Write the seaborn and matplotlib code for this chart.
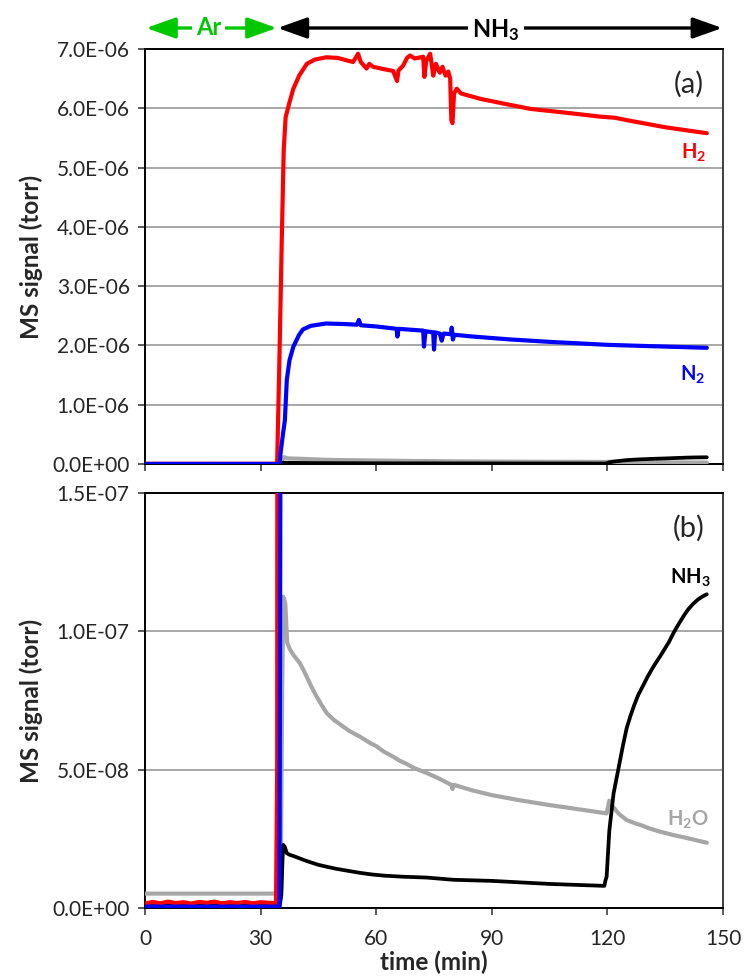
import matplotlib
matplotlib.use("Agg")
import matplotlib.pyplot as plt
import seaborn as sns
import pandas as pd
import numpy as np

# ---------------- data (time in min, signal in torr) ----------------
t_h2 = [0, 2, 4, 6, 8, 10, 12, 14, 16, 18, 20, 22, 24, 26, 28, 30, 32, 34.0,
        34.3, 34.8, 35.2, 35.5, 36.0, 36.5, 37.5, 38.5, 40, 42, 44, 47, 50, 54,
        55.3, 56, 57.5, 58.2, 59.2, 62, 64.4, 65.4, 65.8, 67, 68, 68.8, 70,
        71.5, 72.2, 72.5, 73, 74, 74.5, 74.8, 75.5, 76.5, 77.2, 78, 78.7, 79.2,
        79.5, 79.8, 80.2, 80.9, 82, 87, 93, 100, 110, 118, 122, 125, 135, 145.8]
h2 = [1.6e-9, 2.2e-9, 1.7e-9, 2.3e-9, 1.8e-9, 2.1e-9, 1.6e-9, 2.2e-9, 1.9e-9,
      2.3e-9, 1.7e-9, 2.1e-9, 1.8e-9, 2.2e-9, 1.7e-9, 2.1e-9, 1.9e-9, 1.8e-9,
      0.05e-6, 1.5e-6, 2.8e-6, 3.8e-6, 5.3e-6, 5.85e-6, 6.1e-6, 6.33e-6, 6.55e-6,
      6.75e-6, 6.82e-6, 6.86e-6, 6.85e-6, 6.78e-6, 6.92e-6, 6.78e-6, 6.67e-6,
      6.75e-6, 6.7e-6, 6.66e-6, 6.63e-6, 6.46e-6, 6.64e-6, 6.72e-6, 6.85e-6,
      6.89e-6, 6.84e-6, 6.86e-6, 6.87e-6, 6.53e-6, 6.8e-6, 6.92e-6, 6.7e-6,
      6.55e-6, 6.75e-6, 6.6e-6, 6.7e-6, 6.55e-6, 6.62e-6, 6.5e-6, 5.8e-6,
      5.75e-6, 6.25e-6, 6.33e-6, 6.25e-6, 6.16e-6, 6.08e-6, 5.99e-6, 5.92e-6,
      5.86e-6, 5.84e-6, 5.8e-6, 5.68e-6, 5.58e-6]

t_n2 = [0, 34.9, 35.2, 35.8, 36.3, 36.8, 37.5, 38.5, 40, 41, 43, 47, 52, 55,
        55.5, 56, 60, 65.3, 65.5, 65.8, 70, 72.2, 72.4, 72.8, 74.8, 75, 75.3,
        76.5, 77, 77.5, 79.4, 79.6, 79.9, 80.3, 85, 95, 105, 120, 130, 145.8]
n2 = [0.5e-9, 0.5e-9, 0.2e-6, 0.5e-6, 0.74e-6, 1.42e-6, 1.75e-6, 1.98e-6,
      2.18e-6, 2.27e-6, 2.33e-6, 2.37e-6, 2.36e-6, 2.35e-6, 2.43e-6, 2.34e-6,
      2.32e-6, 2.28e-6, 2.15e-6, 2.28e-6, 2.26e-6, 2.25e-6, 1.98e-6, 2.24e-6,
      2.22e-6, 1.93e-6, 2.22e-6, 2.2e-6, 2.08e-6, 2.2e-6, 2.19e-6, 2.3e-6,
      2.1e-6, 2.18e-6, 2.15e-6, 2.1e-6, 2.06e-6, 2.01e-6, 1.99e-6, 1.96e-6]

t_h2o = [0, 34.9, 35.2, 35.6, 35.9, 36.4, 36.9, 37.6, 38.5, 40.2, 41.5, 43,
         44.5, 46, 47.2, 49, 51, 53, 55.8, 58, 60, 62, 64.4, 66, 68, 70, 73.1,
         76, 79.5, 79.8, 80.2, 85, 90, 97, 105, 112, 119.8, 120.5, 121.5, 123,
         125, 127, 129, 131, 133.7, 137, 140, 143, 145.8]
h2o = [5.2e-9, 5.2e-9, 5.5e-9, 8.0e-8, 11.25e-8, 11.0e-8, 9.6e-8, 9.35e-8,
       9.15e-8, 8.85e-8, 8.5e-8, 8.05e-8, 7.65e-8, 7.3e-8, 7.04e-8, 6.8e-8,
       6.6e-8, 6.4e-8, 6.19e-8, 6.0e-8, 5.85e-8, 5.65e-8, 5.47e-8, 5.33e-8,
       5.2e-8, 5.05e-8, 4.88e-8, 4.7e-8, 4.45e-8, 4.3e-8, 4.45e-8, 4.25e-8,
       4.08e-8, 3.9e-8, 3.72e-8, 3.58e-8, 3.42e-8, 3.88e-8, 3.65e-8, 3.4e-8,
       3.18e-8, 3.07e-8, 2.98e-8, 2.87e-8, 2.76e-8, 2.64e-8, 2.55e-8, 2.45e-8,
       2.36e-8]

t_nh3 = [0, 35.0, 35.4, 35.7, 35.9, 36.3, 36.8, 37.6, 38.5, 40, 41.5, 43, 45,
         47.2, 49.5, 52, 55.8, 59, 62, 67, 73.1, 80, 90, 105, 115, 119.2, 119.5,
         119.8, 120.5, 121.6, 122.8, 124, 125, 126, 127, 128, 129.3, 130.4,
         131.5, 132.6, 133.7, 134.8, 136, 137, 138, 139, 140, 141, 142.3, 143.5,
         144.7, 145.8]
nh3 = [1.0e-9, 1.0e-9, 5e-9, 1.8e-8, 2.28e-8, 2.2e-8, 1.98e-8, 1.92e-8,
       1.88e-8, 1.8e-8, 1.72e-8, 1.65e-8, 1.56e-8, 1.49e-8, 1.42e-8, 1.36e-8,
       1.27e-8, 1.21e-8, 1.17e-8, 1.13e-8, 1.1e-8, 1.02e-8, 0.98e-8, 0.87e-8,
       0.82e-8, 0.8e-8, 1.0e-8, 1.13e-8, 2.8e-8, 4.14e-8, 4.99e-8, 5.85e-8,
       6.5e-8, 6.95e-8, 7.35e-8, 7.7e-8, 8.05e-8, 8.35e-8, 8.62e-8, 8.87e-8,
       9.1e-8, 9.35e-8, 9.62e-8, 9.9e-8, 10.15e-8, 10.38e-8, 10.6e-8, 10.8e-8,
       11.0e-8, 11.15e-8, 11.26e-8, 11.34e-8]

x_ticks = [0, 30, 60, 90, 120, 150]
y_ticks_a = [0, 1e-6, 2e-6, 3e-6, 4e-6, 5e-6, 6e-6, 7e-6]
y_ticks_b = [0, 5e-8, 1e-7, 1.5e-7]

# ---------------- styling ----------------
sns.set_theme(style="white")
plt.rcParams['font.family'] = ['Lato', 'DejaVu Sans']
plt.rcParams['mathtext.default'] = 'regular'

RED = '#ff0000'
BLUE = '#0000ff'
GRAY = '#a6a6a6'
BLACK = '#000000'
GREEN = '#00c800'

W, H = 747, 976
fig = plt.figure(figsize=(W / 100, H / 100), dpi=100)
L, R = 145 / W, 723 / W
ax_a = fig.add_axes([L, 1 - 464 / H, R - L, (464 - 49) / H])
ax_b = fig.add_axes([L, 1 - 908 / H, R - L, (908 - 493) / H])

series = [
    (t_h2o, h2o, GRAY, 3.0),
    (t_nh3, nh3, BLACK, 2.7),
    (t_h2, h2, RED, 3.0),
    (t_n2, n2, BLUE, 3.0),
]

for ax in (ax_a, ax_b):
    for tt, yy, col, lw in series:
        df = pd.DataFrame({'t': tt, 'v': yy})
        sns.lineplot(data=df, x='t', y='v', ax=ax, color=col, linewidth=lw,
                     estimator=None, sort=False, legend=False,
                     solid_joinstyle='round', solid_capstyle='round', zorder=3)
    ax.set_xlim(0, 150)
    ax.set_xticks(x_ticks)
    ax.set_xlabel('')
    ax.yaxis.grid(True, color='#a0a0a0', linewidth=1.3)
    ax.xaxis.grid(False)
    ax.set_axisbelow(True)
    for s in ax.spines.values():
        s.set_visible(True)
        s.set_color('black')
        s.set_linewidth(1.4)
    ax.spines['right'].set_color('#404040')
    ax.tick_params(axis='both', which='both', direction='out', length=5,
                   width=1.2, color='#404040', labelsize=15, left=True,
                   bottom=True, right=False, top=False, pad=6)
    ax.tick_params(axis='x', pad=10)
    ax.set_ylabel('MS signal (torr)', fontsize=17.5, fontweight='bold', labelpad=7)

ax_a.set_ylim(0, 7e-6)
ax_a.set_yticks(y_ticks_a)
ax_a.set_yticklabels([f"{v:.1E}" for v in y_ticks_a])
ax_a.set_xticklabels([])

ax_b.set_ylim(0, 1.5e-7)
ax_b.set_yticks(y_ticks_b)
ax_b.set_yticklabels([f"{v:.1E}" for v in y_ticks_b])
ax_b.set_xticklabels([str(v) for v in x_ticks])
ax_b.set_xlabel('time (min)', fontsize=17.5, fontweight='bold', labelpad=1)

# panel labels and series labels
ax_a.text(0.94, 0.915, '(a)', transform=ax_a.transAxes, fontsize=21,
          ha='center', va='center')
ax_b.text(0.94, 0.915, '(b)', transform=ax_b.transAxes, fontsize=21,
          ha='center', va='center')
ax_a.text(142.5, 5.25e-6, 'H$_2$', color=RED, fontsize=14.5, fontweight='bold',
          ha='center', va='center')
ax_a.text(142.0, 1.5e-6, 'N$_2$', color=BLUE, fontsize=14.5, fontweight='bold',
          ha='center', va='center')
ax_b.text(141.5, 1.195e-7, 'NH$_3$', color=BLACK, fontsize=14.5,
          fontweight='bold', ha='center', va='center')
ax_b.text(141.0, 3.2e-8, 'H$_2$O', color=GRAY, fontsize=14.5,
          fontweight='bold', ha='center', va='center')

# gas arrows above top panel
y_arr = 1 + (49 - 28) / (464 - 49)
arrow_kw = dict(xycoords=('data', 'axes fraction'),
                textcoords=('data', 'axes fraction'), annotation_clip=False)
ax_a.annotate('', xy=(0.3, y_arr), xytext=(34.2, y_arr),
              arrowprops=dict(arrowstyle='<|-|>,head_length=0.9,head_width=0.32',
                              color=GREEN, lw=2.4, mutation_scale=20,
                              shrinkA=0, shrinkB=0), **arrow_kw)
ax_a.annotate('', xy=(34.4, y_arr), xytext=(149.8, y_arr),
              arrowprops=dict(arrowstyle='<|-|>,head_length=0.9,head_width=0.32',
                              color=BLACK, lw=2.4, mutation_scale=20,
                              shrinkA=0, shrinkB=0), **arrow_kw)
ax_a.text(16.5, y_arr, 'Ar', transform=ax_a.get_xaxis_transform(),
          color=GREEN, fontsize=17, fontweight='bold', ha='center', va='center',
          bbox=dict(facecolor='white', edgecolor='none', pad=3), clip_on=False)
ax_a.text(91.0, y_arr - 0.004, 'NH$_3$', transform=ax_a.get_xaxis_transform(),
          color=BLACK, fontsize=17, fontweight='bold', ha='center', va='center',
          bbox=dict(facecolor='white', edgecolor='none', pad=3), clip_on=False)

fig.savefig('out.png', dpi=100)
